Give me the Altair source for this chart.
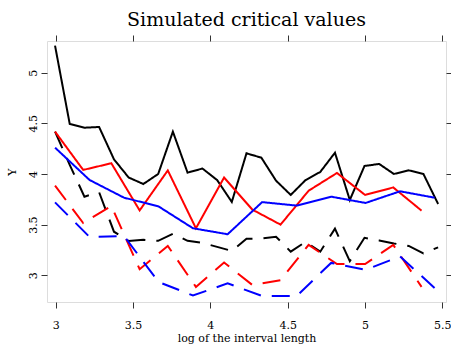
import altair as alt
import pandas as pd

# log interval lengths for the three grids
x_fine = [2.996, 3.091, 3.186, 3.281, 3.377, 3.472, 3.567, 3.663, 3.758, 3.853,
          3.949, 4.044, 4.139, 4.234, 4.330, 4.425, 4.520, 4.616, 4.711, 4.806,
          4.902, 4.997, 5.092, 5.187, 5.283, 5.378, 5.473]
x_mid = [2.996, 3.178, 3.360, 3.543, 3.725, 3.907, 4.089, 4.272, 4.454, 4.636,
         4.819, 5.001, 5.183, 5.366]
x_wide = [2.996, 3.219, 3.442, 3.665, 3.888, 4.112, 4.335, 4.558, 4.781, 5.004,
          5.227, 5.450]

black_solid = [5.267, 4.494, 4.457, 4.464, 4.145, 3.965, 3.901, 4.000, 4.418, 4.013,
               4.054, 3.940, 3.724, 4.204, 4.161, 3.934, 3.793, 3.940, 4.020, 4.210,
               3.743, 4.079, 4.099, 4.000, 4.036, 4.000, 3.704]
black_dashed = [4.418, 4.090, 3.776, 3.820, 3.430, 3.339, 3.350, 3.340, 3.410, 3.340,
                3.320, 3.280, 3.240, 3.360, 3.363, 3.380, 3.233, 3.330, 3.233, 3.460,
                3.140, 3.370, 3.344, 3.314, 3.290, 3.217, 3.275]
red_solid = [4.418, 4.040, 4.106, 3.640, 4.035, 3.464, 3.965, 3.648, 3.500, 3.835,
             4.010, 3.793, 3.867, 3.638]
red_dashed = [3.885, 3.516, 3.684, 3.060, 3.290, 2.885, 3.126, 2.904, 2.952, 3.300,
              3.110, 3.110, 3.300, 2.885]
blue_solid = [4.260, 3.941, 3.766, 3.680, 3.464, 3.405, 3.722, 3.688, 3.776, 3.714,
              3.829, 3.766]
blue_dashed = [3.720, 3.378, 3.388, 2.934, 2.800, 2.920, 2.795, 2.795, 3.122, 3.053,
               3.186, 2.875]

x_ticks = [3, 3.5, 4, 4.5, 5, 5.5]
y_ticks = [3, 3.5, 4, 4.5, 5]

series = [
    ("black solid", x_fine, black_solid, "#000000", "solid"),
    ("black dashed", x_fine, black_dashed, "#000000", "dashed"),
    ("red solid", x_mid, red_solid, "#FF0000", "solid"),
    ("red dashed", x_mid, red_dashed, "#FF0000", "dashed"),
    ("blue solid", x_wide, blue_solid, "#0000FF", "solid"),
    ("blue dashed", x_wide, blue_dashed, "#0000FF", "dashed"),
]
rows = []
for order, (name, xs, ys, colour, style) in enumerate(series):
    for i, (xv, yv) in enumerate(zip(xs, ys)):
        rows.append({"x": xv, "y": yv, "series": name, "colour": colour,
                     "style": style, "idx": i, "layer": order})
df = pd.DataFrame(rows)

FONT = "DejaVu Serif"
x_scale = alt.Scale(domain=[2.944, 5.524], nice=False, zero=False)
y_scale = alt.Scale(domain=[2.736, 5.313], nice=False, zero=False)

common_axis = dict(grid=False, domain=False, tickSize=6, tickColor="#333333",
                   tickWidth=1, labelFont=FONT, labelFontSize=11, labelColor="#000000",
                   titleFont=FONT, titleFontSize=11, titleFontWeight="normal",
                   titleColor="#000000", format="~g")

lines = alt.Chart(df).mark_line(strokeWidth=2).encode(
    x=alt.X("x:Q", scale=x_scale,
            axis=alt.Axis(values=x_ticks, title="log of the interval length",
                          labelPadding=11, titlePadding=2, **common_axis)),
    y=alt.Y("y:Q", scale=y_scale,
            axis=alt.Axis(values=y_ticks, title="Y", labelAngle=-90,
                          labelAlign="center", labelBaseline="bottom",
                          labelPadding=3, titlePadding=10, **common_axis)),
    color=alt.Color("colour:N", scale=None),
    strokeDash=alt.StrokeDash("style:N", legend=None,
                              scale=alt.Scale(domain=["solid", "dashed"],
                                              range=[[1, 0], [18, 11]])),
    detail="series:N",
    order="idx:Q",
)

# invisible layer carrying the tick marks on the top and right edges
edges = alt.Chart(df).mark_point(opacity=0).encode(
    x=alt.X("x:Q", scale=x_scale,
            axis=alt.Axis(orient="top", values=x_ticks, labels=False, title=None,
                          grid=False, domain=False, tickSize=6, tickColor="#333333")),
    y=alt.Y("y:Q", scale=y_scale,
            axis=alt.Axis(orient="right", values=y_ticks, labels=False, title=None,
                          grid=False, domain=False, tickSize=6, tickColor="#333333")),
)

chart = alt.layer(lines, edges).resolve_axis(
    x="independent", y="independent"
).properties(
    width=399,
    height=261,
    title=alt.TitleParams("Simulated critical values", font=FONT, fontSize=19,
                          fontWeight="normal", color="#000000", anchor="middle",
                          offset=5),
    autosize=alt.AutoSizeParams(type="none"),
    padding={"left": 47, "top": 41, "right": 5, "bottom": 47},
).configure_view(stroke="#333333", strokeWidth=1).configure(background="white")

chart.save("out.html", embed_options={"renderer": "svg", "actions": False})
